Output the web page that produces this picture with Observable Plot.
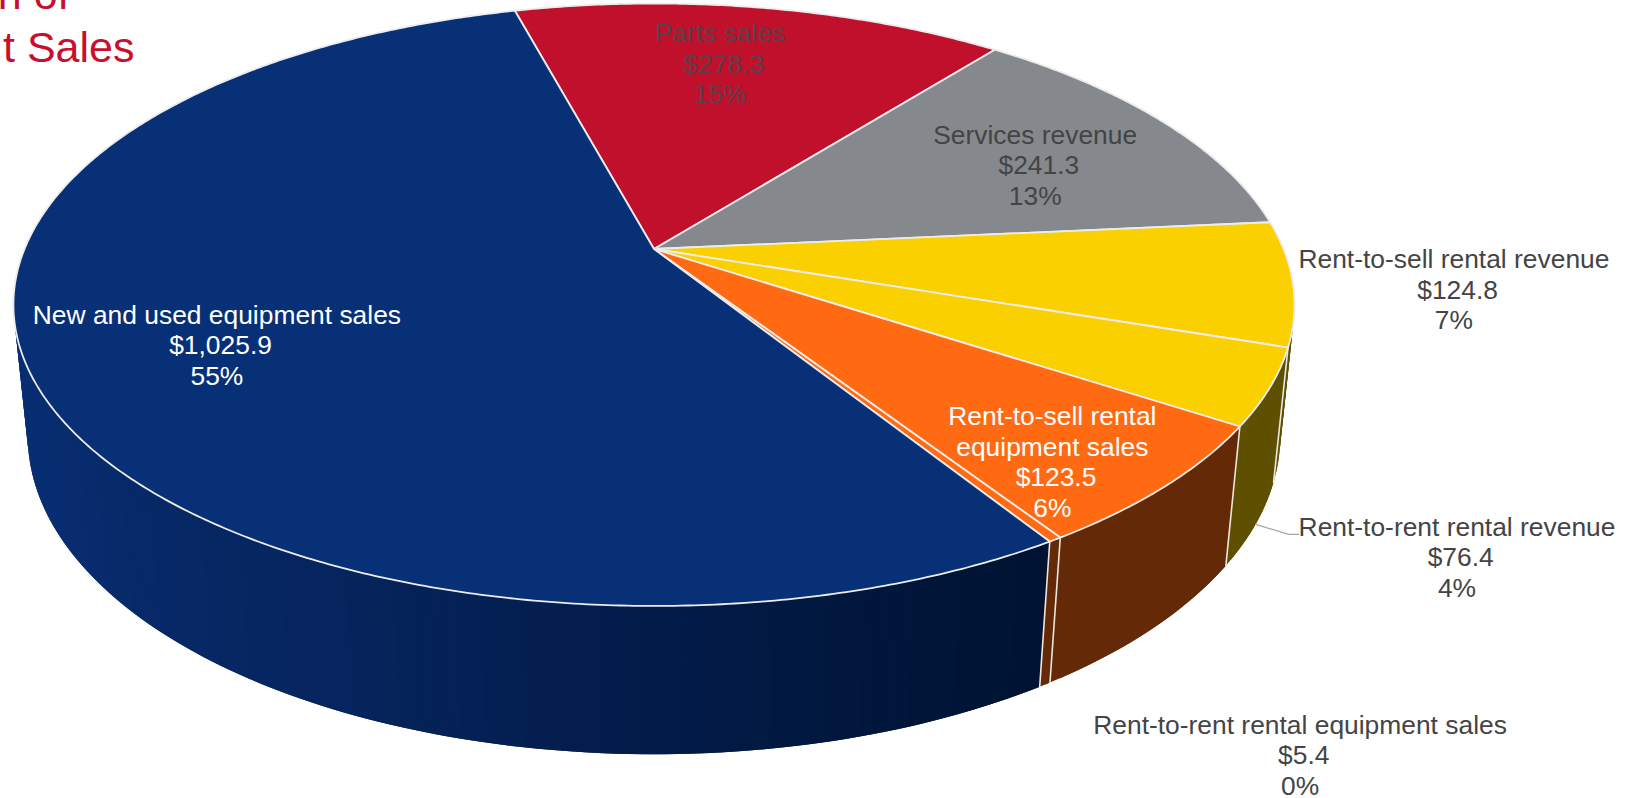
<!DOCTYPE html>
<html>
<head>
<meta charset="utf-8">
<script src="https://cdn.jsdelivr.net/npm/d3@7"></script>
<script src="https://cdn.jsdelivr.net/npm/@observablehq/plot@0.6"></script>
<style>
  html, body { margin: 0; padding: 0; background: #fff; overflow: hidden; }
  svg { display: block; max-width: none !important; }
</style>
</head>
<body>
<div id="chart"></div>
<script>
// Revenue segments, clockwise from the top of the pie ($ millions)
const segments = [
  "Parts sales",
  "Services revenue",
  "Rent-to-sell rental revenue",
  "Rent-to-rent rental revenue",
  "Rent-to-sell rental\nequipment sales",
  "Rent-to-rent rental equipment sales",
  "New and used equipment sales"
];
const amounts = [278.3, 241.3, 124.8, 76.4, 123.5, 5.4, 1025.9];
const shares = ["15%", "13%", "7%", "4%", "6%", "0%", "55%"];

const topColors = ["#c0102c", "#85888d", "#fad000", "#fad000", "#ff6a13", "#ff6a13", "#083076"];
const sideColors = ["#5f0816", "#424446", "#5f5000", "#5f5000", "#642a08", "#642a08", null];
const textColors = ["#5a4048", "#444444", "#444444", "#444444", "#ffffff", "#444444", "#ffffff"];

// The blue wall darkens from left to right across the page
const wallStops = [[20, "#082e72"], [130, "#072968"], [350, "#06245c"], [500, "#041f52"], [700, "#021a46"], [1040, "#001332"]];
const wallShade = (x) => {
  const i = d3.bisector((d) => d[0]).right(wallStops, x);
  if (i <= 0) return wallStops[0][1];
  if (i >= wallStops.length) return wallStops[wallStops.length - 1][1];
  const [x0, c0] = wallStops[i - 1], [x1, c1] = wallStops[i];
  return d3.interpolateRgb(c0, c1)((x - x0) / (x1 - x0));
};

// Where each label sits relative to the middle of its slice's rim
const labelShift = [[-41, 55], [-127, 43], [161, 6], [187, 169], [-113, -25], [245, 215], [186, -30]];

// Perspective view of a shallow cylinder
const view = {cx: 653.5, cy: 248.5, rx: 629.5, ry: 290.9, depth: 132, tilt: 0.185, recede: 0.022, start: -15.1};
const rad = Math.PI / 180;
function project(deg, r = 1, h = 0) {
  const c = r * Math.sin(deg * rad), s = -r * Math.cos(deg * rad);
  const w = 1 - view.tilt * s + view.recede * h;
  return {x: view.cx + view.rx * c / w, y: view.cy + (view.ry * s + view.depth * h) / w};
}

const total = d3.sum(amounts);
let turn = view.start;
const slices = amounts.map((v, i) => {
  const a0 = turn;
  turn += (v / total) * 360;
  return {i, a0, a1: turn, mid: (a0 + turn) / 2};
});

// Cylinder wall, split into narrow strips so the shading can vary across it.
// Each strip runs one step under its neighbour and they are painted in
// descending angle, which leaves no hairline gaps between them.
const strips = [];
for (const {i, a0, a1} of slices) {
  const n = Math.max(1, Math.ceil(a1 - a0));
  const step = (a1 - a0) / n;
  for (let k = n - 1; k >= 0; --k) {
    const t0 = a0 + step * k, t1 = t0 + step;
    const lead = k === 0 ? t0 : t0 - step;
    const shade = sideColors[i] ?? wallShade(project((t0 + t1) / 2).x);
    const id = `${i}-${k}`;
    [project(lead), project(t1), project(t1, 1, 1), project(lead, 1, 1)].forEach((p) =>
      strips.push({...p, id, shade, order: t0})
    );
  }
}
strips.sort((a, b) => d3.descending(a.order, b.order));

// Pale seams where the slices meet on the wall
const seams = slices.flatMap(({i, a0}) => {
  const s = -Math.cos(a0 * rad);
  return s > 0 ? [{...project(a0), id: i}, {...project(a0, 1, 1), id: i}] : [];
});

// Flat top of each slice
const faces = slices.flatMap(({i, a0, a1}) => {
  const n = Math.ceil((a1 - a0) * 2);
  const rim = d3.range(n + 1).map((k) => project(a0 + ((a1 - a0) * k) / n));
  return [project(0, 0), ...rim].map((p) => ({...p, id: i, shade: topColors[i]}));
});

const labels = slices.map(({i, mid}) => {
  const p = project(mid);
  return {
    x: p.x + labelShift[i][0],
    y: p.y + labelShift[i][1],
    text: `${segments[i]}\n\u00a0$${d3.format(",.1f")(amounts[i])}\n${shares[i]}`,
    ink: textColors[i]
  };
});

// Leader from the wall to the rent-to-rent revenue label
const foot = project(slices[3].mid, 1, 1);
const leader = [foot, {x: foot.x + 33, y: foot.y + 10}, {x: foot.x + 43, y: foot.y + 10}];

const headingLines = [
  {text: "n of", x: 69, y: -5},
  {text: "t Sales", x: 134, y: 48}
];

const chart = Plot.plot({
  width: 1637,
  height: 798,
  margin: 0,
  x: {domain: [0, 1637], range: [0, 1637], axis: null},
  y: {domain: [0, 798], range: [0, 798], axis: null},
  color: {type: "identity"},
  marks: [
    Plot.line(strips, {x: "x", y: "y", z: "id", fill: "shade", stroke: "none", curve: "linear-closed"}),
    Plot.line(seams, {x: "x", y: "y", z: "id", stroke: "#ece6df", strokeWidth: 1.6}),
    Plot.line(faces, {x: "x", y: "y", z: "id", fill: "shade", stroke: "#ececec", strokeWidth: 1.8, strokeLinejoin: "round", curve: "linear-closed"}),
    Plot.line(leader, {x: "x", y: "y", stroke: "#a6a6a6", strokeWidth: 1.2}),
    Plot.text(labels, {x: "x", y: "y", text: "text", fill: "ink", fontSize: 26.4, lineHeight: 1.155, fontFamily: "Liberation Sans", textAnchor: "middle"}),
    Plot.text(headingLines, {x: "x", y: "y", text: "text", fill: "#c8102e", fontSize: 43, fontFamily: "Liberation Sans", textAnchor: "end", lineAnchor: "middle"})
  ]
});
document.getElementById("chart").append(chart);
</script>
</body>
</html>
